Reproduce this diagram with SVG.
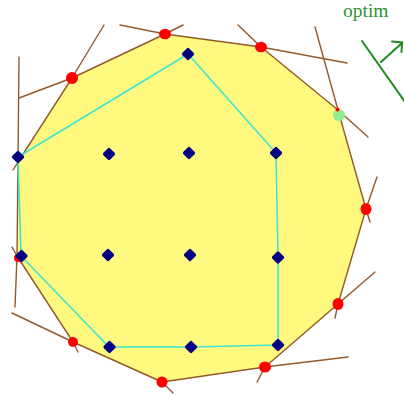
<svg xmlns="http://www.w3.org/2000/svg" xmlns:xlink="http://www.w3.org/1999/xlink" width="404" height="396" viewBox="0 0 404 396">
<style>
.cut{stroke:#94592a;stroke-width:1.4;fill:none;stroke-linecap:round}
.poly{fill:#fff97f;stroke:#94592a;stroke-width:1.4;stroke-linejoin:round}
.hull{fill:none;stroke:#3ee6d2;stroke-width:1.6;stroke-linejoin:round}
.red{fill:#ff0000}
.pt{fill:#000080;stroke:#000080;stroke-width:3.4;stroke-linejoin:round}
.grn{stroke:#1e8c1e;stroke-width:2;fill:none;stroke-linecap:round}
</style>
<defs>
<path id="dia" d="M0,-4.4 L4.4,0 L0,4.4 L-4.4,0Z"/>
</defs>
<rect width="404" height="396" fill="#ffffff"/>
<g id="region">
<polygon class="poly" points="72,78 165,34 261,47 338,110 366,209 338,304 265,367 162,382 73,342 17,256 18,162"/>
</g>
<g id="cuts">
<line class="cut" x1="72" y1="78" x2="19" y2="98"/>
<line class="cut" x1="72" y1="78" x2="104" y2="25"/>
<line class="cut" x1="165" y1="34" x2="120" y2="25"/>
<line class="cut" x1="165" y1="34" x2="183" y2="25"/>
<line class="cut" x1="261" y1="47" x2="238" y2="25"/>
<line class="cut" x1="261" y1="47" x2="347" y2="63"/>
<line class="cut" x1="338" y1="110" x2="315" y2="27"/>
<line class="cut" x1="338" y1="110" x2="368" y2="137"/>
<line class="cut" x1="366" y1="209" x2="377" y2="177"/>
<line class="cut" x1="366" y1="209" x2="370" y2="222"/>
<line class="cut" x1="338" y1="304" x2="375" y2="272"/>
<line class="cut" x1="338" y1="304" x2="335" y2="318"/>
<line class="cut" x1="265" y1="367" x2="348" y2="357"/>
<line class="cut" x1="265" y1="367" x2="257" y2="382"/>
<line class="cut" x1="162" y1="382" x2="173" y2="393"/>
<line class="cut" x1="73" y1="342" x2="12" y2="313"/>
<line class="cut" x1="73" y1="342" x2="78" y2="352"/>
<line class="cut" x1="17" y1="256" x2="12" y2="247"/>
<line class="cut" x1="17" y1="256" x2="15" y2="307"/>
<line class="cut" x1="18" y1="162" x2="13" y2="170"/>
<line class="cut" x1="18" y1="162" x2="19" y2="57"/>
</g>
<g id="hull">
<polygon class="hull" points="18,157 188,54 276,153 278,257 278,345 191,347 109,347 21,256"/>
</g>
<g id="vertices">
<ellipse class="red" cx="72" cy="78" rx="6" ry="6"/>
<ellipse class="red" cx="165" cy="34" rx="6" ry="5.2"/>
<ellipse class="red" cx="261" cy="47" rx="6" ry="5.2"/>
<circle cx="339" cy="115" r="6" fill="#90ee90"/>
<circle class="red" cx="337.5" cy="109.5" r="2"/>
<ellipse class="red" cx="366" cy="209" rx="5.5" ry="6"/>
<ellipse class="red" cx="338" cy="304" rx="5.5" ry="6"/>
<ellipse class="red" cx="265" cy="367" rx="6" ry="5.5"/>
<ellipse class="red" cx="162" cy="382" rx="5.5" ry="5.5"/>
<ellipse class="red" cx="73" cy="342" rx="5" ry="5"/>
<circle class="red" cx="18" cy="258" r="4"/>
</g>
<g id="points">
<use xlink:href="#dia" class="pt" x="188" y="54"/>
<use xlink:href="#dia" class="pt" x="18" y="157"/>
<use xlink:href="#dia" class="pt" x="109" y="154"/>
<use xlink:href="#dia" class="pt" x="189" y="153"/>
<use xlink:href="#dia" class="pt" x="276" y="153"/>
<use xlink:href="#dia" class="pt" x="21.5" y="256"/>
<use xlink:href="#dia" class="pt" x="108" y="255"/>
<use xlink:href="#dia" class="pt" x="190" y="255"/>
<use xlink:href="#dia" class="pt" x="278" y="257.5"/>
<use xlink:href="#dia" class="pt" x="109.5" y="347"/>
<use xlink:href="#dia" class="pt" x="191" y="347"/>
<use xlink:href="#dia" class="pt" x="278" y="345"/>
</g>
<g id="optim">
<text x="343" y="17" font-family="'Liberation Serif', serif" font-size="19.5" fill="#2e932e">optim</text>
<line class="grn" x1="362" y1="41" x2="405" y2="102"/>
<polyline class="grn" points="381,62 402,43"/>
<polyline class="grn" points="392,41.5 402,42.5 401.5,52"/>
</g>
</svg>
